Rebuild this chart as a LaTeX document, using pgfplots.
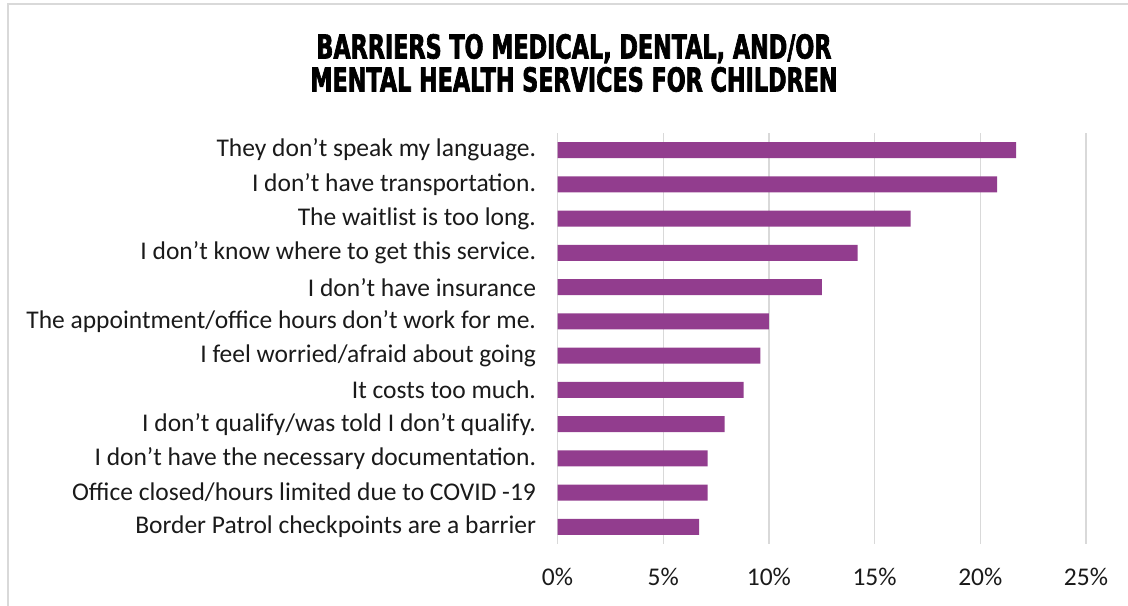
\documentclass[border=0pt]{standalone}
\usepackage{fontspec}
\setmainfont{Carlito}
\newfontfamily\titlefont{DejaVu Sans}[FakeStretch=0.675,FakeBold=2]
\usepackage{pgfplots}
\pgfplotsset{compat=1.18}
\definecolor{barpurple}{HTML}{923D8E}
\definecolor{gridgray}{HTML}{D9D9D9}
\definecolor{txt}{HTML}{1A1A1A}
\begin{document}
\begin{tikzpicture}
\useasboundingbox (0bp,0bp) rectangle (1128bp,606bp);
\draw[color=gridgray,line width=1.5bp] (8bp,-20bp) -- (8bp,602bp) -- (1140bp,602bp);
\node[font=\titlefont\bfseries\fontsize{33bp}{33bp}\selectfont, align=center, anchor=center] at (574bp,543bp)
  {BARRIERS TO MEDICAL, DENTAL, AND/OR\\MENTAL HEALTH SERVICES FOR CHILDREN};
\begin{axis}[
  at={(557.5bp,62bp)}, anchor=south west,
  scale only axis, width=528.5bp, height=411bp,
  xbar, bar width=16bp,
  xmin=0, xmax=25,
  ymin=-0.5, ymax=11.5, y dir=reverse,
  ytick={0,...,11},
  yticklabels={They don’t speak my language.,I don’t have transportation.,The waitlist is too long.,I don’t know where to get this service.,I don’t have insurance,The appointment/office hours don’t work for me.,I feel worried/afraid about going,It costs too much.,I don’t qualify/was told I don’t qualify.,I don’t have the necessary documentation.,Office closed/hours limited due to COVID -19,Border Patrol checkpoints are a barrier},
  xtick={0,5,...,25},
  xticklabel={\pgfmathprintnumber{\tick}\%},
  /pgf/number format/assume math mode=true,
  xmajorgrids, major grid style={gridgray,line width=1.2bp},
  axis line style={draw=none},
  major tick length=0pt,
  tick label style={font=\fontsize{25.5bp}{28bp}\selectfont, text=txt},
  yticklabel style={xshift=-18bp},
  xticklabel style={yshift=-21bp},
]
\addplot[fill=barpurple, draw=none] coordinates {
(21.7,0) (20.8,1) (16.7,2) (14.2,3) (12.5,4) (10.0,5) (9.6,6) (8.8,7) (7.9,8) (7.1,9) (7.1,10) (6.7,11)};
\end{axis}
\end{tikzpicture}
\end{document}
